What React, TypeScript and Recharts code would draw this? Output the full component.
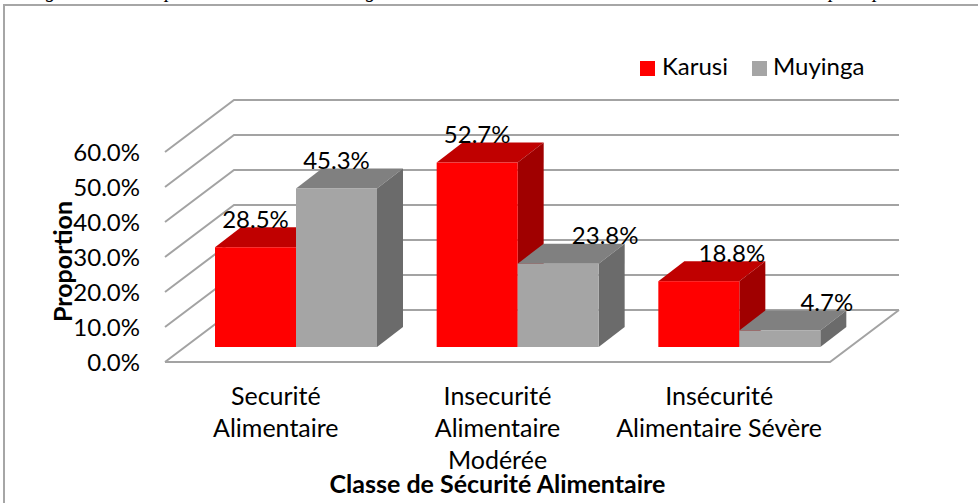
import { BarChart, Bar, XAxis, YAxis, CartesianGrid, Legend, LabelList } from "recharts";

const categories = ["Securité\nAlimentaire", "Insecurité\nAlimentaire\nModérée", "Insécurité\nAlimentaire Sévère"];
const karusi = [28.5, 52.7, 18.8];
const muyinga = [45.3, 23.8, 4.7];
const yTicks = [0, 10, 20, 30, 40, 50, 60];

const data = categories.map((name, i) => ({ name, karusi: karusi[i], muyinga: muyinga[i] }));

const FONT = "Lato, sans-serif";
const GRID = "#a3a3a3";
// depth of the floor, and where the bars sit on it
const FLOOR_DX = 69;
const FLOOR_DY = 52;
const BAR_SHIFT_X = 20;
const BAR_SHIFT_Y = 15;
const BAR_DX = 26;
const BAR_DY = 20;

// the caption above the chart is cut by the page edge, only its descenders show
const captionGlyphs: [string, number][] = [["g", 46], ["p", 165], ["g", 366], ["p", 829], ["p", 873]];

const GridLine = (props: any) => {
  const { x1, x2, y1, y, height } = props;
  const isFloor = Math.abs(y1 - (y + height)) < 0.5;
  return (
    <g fill="none" stroke={GRID} strokeWidth={2}>
      <polyline points={`${x1},${y1} ${x1 + FLOOR_DX},${y1 - FLOOR_DY} ${x2 + FLOOR_DX},${y1 - FLOOR_DY}`} />
      {isFloor && <polyline points={`${x1},${y1} ${x2},${y1} ${x2 + FLOOR_DX},${y1 - FLOOR_DY}`} />}
    </g>
  );
};

const box = (front: string, top: string, side: string) => (props: any) => {
  const x = props.x + BAR_SHIFT_X;
  const y = props.y - BAR_SHIFT_Y;
  const { width: w, height: h } = props;
  return (
    <g>
      <polygon points={`${x},${y} ${x + w},${y} ${x + w + BAR_DX},${y - BAR_DY} ${x + BAR_DX},${y - BAR_DY}`} fill={top} />
      <polygon points={`${x + w},${y} ${x + w + BAR_DX},${y - BAR_DY} ${x + w + BAR_DX},${y + h - BAR_DY} ${x + w},${y + h}`} fill={side} />
      <rect x={x} y={y} width={w} height={h} fill={front} />
    </g>
  );
};

const valueLabel = (nudges: number[]) => (props: any) => {
  const { x, y, width, value, index } = props;
  return (
    <text x={x + width / 2 + nudges[index]} y={y - 44} textAnchor="middle" dominantBaseline="central" fontFamily={FONT} fontSize={24} fill="#000">
      {value.toFixed(1)}%
    </text>
  );
};

const CategoryTick = (props: any) => {
  const { x, y, payload } = props;
  return (
    <text x={x} textAnchor="middle" fontFamily={FONT} fontSize={25} fill="#000">
      {String(payload.value).split("\n").map((line, i) => (
        <tspan key={i} x={x} y={y + 35 + i * 32}>{line}</tspan>
      ))}
    </text>
  );
};

const LegendRow = () => (
  <div style={{ position: "relative", width: 240, height: 0, fontFamily: FONT, fontSize: 24, color: "#000", lineHeight: "28px" }}>
    <span style={{ position: "absolute", left: 0, top: 6, width: 15, height: 15, background: "#ff0000" }} />
    <span style={{ position: "absolute", left: 22, top: -3 }}>Karusi</span>
    <span style={{ position: "absolute", left: 112, top: 6, width: 15, height: 15, background: "#a5a5a5" }} />
    <span style={{ position: "absolute", left: 133, top: -3 }}>Muyinga</span>
  </div>
);

export default function App() {
  return (
    <div style={{ position: "absolute", left: 0, top: 0, width: 978, height: 503, overflow: "hidden", background: "#fff" }}>
      {captionGlyphs.map(([glyph, left], i) => (
        <span key={i} style={{ position: "absolute", left, bottom: 502, fontFamily: "'Liberation Serif', serif", fontStyle: "italic", fontSize: 20, lineHeight: "22px" }}>
          {glyph}
        </span>
      ))}
      <div style={{ position: "absolute", left: 3, top: 4, width: 990, height: 520, border: "2px solid #a6a6a6" }} />
      <BarChart
        width={978}
        height={503}
        data={data}
        margin={{ top: 152, right: 148, bottom: 0, left: 0 }}
        barSize={81}
        barGap={0}
        style={{ position: "absolute", left: 0, top: 0 }}
      >
        <CartesianGrid vertical={false} horizontal={GridLine} />
        <XAxis
          dataKey="name"
          axisLine={false}
          tickLine={false}
          height={141}
          interval={0}
          tick={CategoryTick}
          label={{ value: "Classe de Sécurité Alimentaire", position: "insideBottom", offset: 10, fontFamily: FONT, fontSize: 25, fontWeight: 700, fill: "#000" }}
        />
        <YAxis
          width={165}
          domain={[0, 60]}
          ticks={yTicks}
          axisLine={false}
          tickLine={false}
          tickMargin={19}
          tickFormatter={(v: number) => `${v.toFixed(1)}%`}
          tick={{ fontFamily: FONT, fontSize: 24, fill: "#000" }}
          label={{ value: "Proportion", angle: -90, position: "insideLeft", dx: 58, dy: 65, fontFamily: FONT, fontSize: 25, fontWeight: 700, fill: "#000" }}
        />
        <Legend content={LegendRow} wrapperStyle={{ left: 640, top: 55, width: 240 }} />
        <Bar dataKey="karusi" isAnimationActive={false} shape={box("#ff0000", "#c00000", "#a00000")}>
          <LabelList dataKey="karusi" content={valueLabel([20, 20, 53])} />
        </Bar>
        <Bar dataKey="muyinga" isAnimationActive={false} shape={box("#a5a5a5", "#808080", "#6b6b6b")}>
          <LabelList dataKey="muyinga" content={valueLabel([20, 67, 67])} />
        </Bar>
      </BarChart>
    </div>
  );
}
